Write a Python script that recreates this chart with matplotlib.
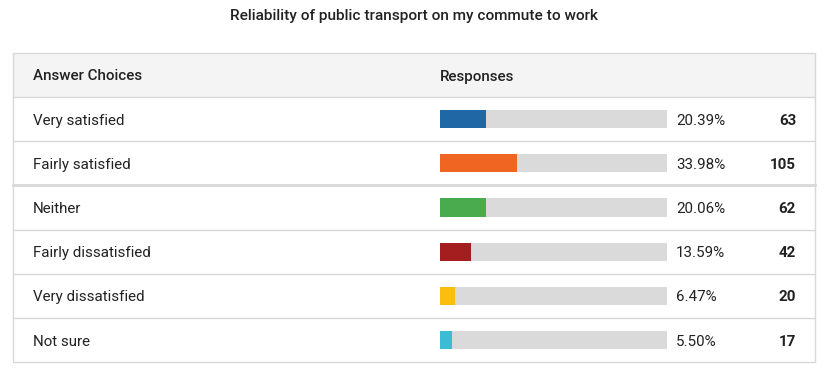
import matplotlib

matplotlib.use("Agg")
import matplotlib.pyplot as plt
from matplotlib.patches import Rectangle

plt.rcParams["font.family"] = ["Roboto", "DejaVu Sans"]

TITLE = "Reliability of public transport on my commute to work"
choices = ["Very satisfied", "Fairly satisfied", "Neither",
           "Fairly dissatisfied", "Very dissatisfied", "Not sure"]
percents = [20.39, 33.98, 20.06, 13.59, 6.47, 5.50]
counts = [63, 105, 62, 42, 20, 17]
colors = ["#2068a5", "#f06522", "#4aab4e", "#a51e1f", "#fbbd0f", "#3bbcd4"]

W, H = 831, 383
LEFT, RIGHT = 13, 815
TOP, HEAD_H, ROW_H = 53, 44, 44.2
BAR_X0, BAR_X1 = 440, 667
LINE = "#d8d8d8"
FS = 10.9
DY = 1.5  # text sits a touch below the row centre

fig = plt.figure(figsize=(W / 100, H / 100), dpi=100)
ax = fig.add_axes([0, 0, 1, 1])
ax.set_xlim(0, W)
ax.set_ylim(H, 0)
ax.axis("off")

ax.text(W / 2 - 1, 16, TITLE, ha="center", va="center", fontsize=11.1,
        fontweight="medium", color="#222222")

body_top = TOP + HEAD_H
bottom = body_top + ROW_H * len(choices)

# header band and outer frame
ax.add_patch(Rectangle((LEFT, TOP), RIGHT - LEFT, HEAD_H, facecolor="#f4f4f4",
                       edgecolor="none"))
ax.add_patch(Rectangle((LEFT, TOP), RIGHT - LEFT, bottom - TOP, facecolor="none",
                       edgecolor=LINE, lw=1))
ax.text(33, TOP + HEAD_H / 2 + DY, "Answer Choices", va="center", fontsize=FS,
        fontweight="medium", color="#222222")
ax.text(BAR_X0, TOP + HEAD_H / 2 + DY, "Responses", va="center", fontsize=FS,
        fontweight="medium", color="#222222")

for i, (name, pct, n) in enumerate(zip(choices, percents, counts)):
    y0 = body_top + i * ROW_H
    yc = y0 + ROW_H / 2 + DY
    lw = 2 if i == 2 else 1
    ax.plot([LEFT, RIGHT], [y0, y0], color=LINE, lw=lw)
    ax.text(33, yc, name, va="center", fontsize=FS, color="#222222")
    ax.text(676, yc, f"{pct:.2f}%", va="center", fontsize=FS, color="#222222")
    ax.text(796, yc, str(n), va="center", ha="right", fontsize=FS,
            fontweight="bold", color="#222222")

# bars in their own axes, on a 0-100 % scale
bx = fig.add_axes([BAR_X0 / W, 1 - bottom / H, (BAR_X1 - BAR_X0) / W,
                   (bottom - body_top) / H])
bx.set_xlim(0, 100)
bx.set_ylim(len(choices), 0)
bx.axis("off")
rows = [i + 0.5 for i in range(len(choices))]
bx.barh(rows, [100] * len(choices), height=0.41, color="#dadada")
bx.barh(rows, percents, height=0.41, color=colors)

fig.savefig("out.png", dpi=100)
